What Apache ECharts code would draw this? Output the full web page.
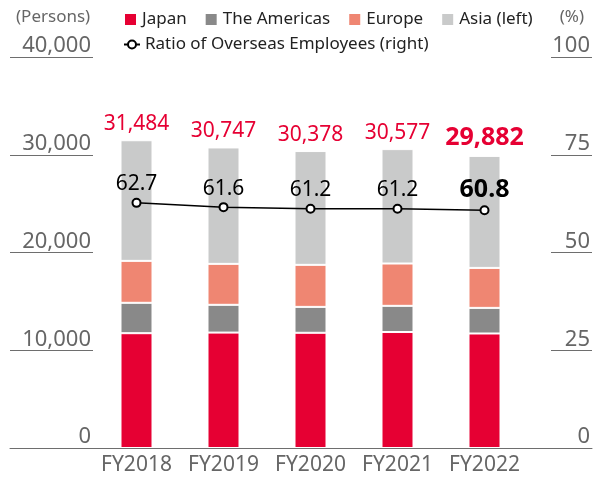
<!DOCTYPE html>
<html>
<head>
<meta charset="utf-8">
<script src="https://cdn.jsdelivr.net/npm/echarts@6/dist/echarts.min.js"></script>
<style>
  html, body { margin: 0; padding: 0; background: #fff; }
  #chart { width: 593px; height: 478px; }
</style>
</head>
<body>
<div id="chart"></div>
<script>
// Employees by region (persons) and overseas ratio (%)
const categories = ['FY2018', 'FY2019', 'FY2020', 'FY2021', 'FY2022'];
const japan    = [11744, 11807, 11787, 11864, 11714];
const americas = [3110, 2840, 2650, 2680, 2620];
const europe   = [4290, 4190, 4300, 4330, 4090];
const totals   = [31484, 30747, 30378, 30577, 29882];
const asia     = totals.map((t, i) => t - japan[i] - americas[i] - europe[i]);
const ratio    = [62.7, 61.6, 61.2, 61.2, 60.8];
const leftTicks  = [0, 10000, 20000, 30000, 40000];
const rightTicks = [0, 25, 50, 75, 100];

const FONT = '"Noto Sans", "Open Sans", sans-serif';
const RED = '#e60033';
const TICK = '#6e6e6e';
const last = categories.length - 1;

const chart = echarts.init(document.getElementById('chart'));

function barSeries(name, data, color) {
  return {
    name, type: 'bar', stack: 'staff', data,
    barWidth: 32,
    itemStyle: { color, borderColor: '#fff', borderWidth: 1 },
    emphasis: { disabled: true }
  };
}

const asiaSeries = barSeries('Asia (left)', asia.map((v, i) => {
  const item = { value: v };
  if (i === last) item.label = { fontSize: 25, fontWeight: 'bold' };
  return item;
}), '#c9caca');
asiaSeries.label = {
  show: true, position: 'top', distance: 6,
  color: RED, fontFamily: FONT, fontSize: 21,
  formatter: p => totals[p.dataIndex].toLocaleString('en-US')
};

chart.setOption({
  animation: false,
  textStyle: { fontFamily: FONT },
  title: [
    { text: '(Persons)', left: 11, top: 4, textStyle: { fontSize: 17, fontWeight: 'normal', color: '#666', fontFamily: FONT } },
    { text: '(%)', right: 4, top: 4, textStyle: { fontSize: 17, fontWeight: 'normal', color: '#666', fontFamily: FONT } }
  ],
  legend: [
    {
      data: ['Japan', 'The Americas', 'Europe', 'Asia (left)'],
      left: 118, top: 6, itemWidth: 13, itemHeight: 13, itemGap: 17, itemTextGap: 7,
      icon: 'rect',
      textStyle: { fontSize: 17, color: '#222', fontFamily: FONT }
    },
    {
      data: ['Ratio of Overseas Employees (right)'],
      left: 118, top: 31, itemWidth: 16, itemHeight: 10, itemTextGap: 5,
      textStyle: { fontSize: 17, color: '#222', fontFamily: FONT }
    }
  ],
  grid: [
    { left: 93, width: 435, top: 57, bottom: 30, containLabel: false },
    { left: 10, right: 1, top: 57, bottom: 30, containLabel: false }
  ],
  xAxis: [
    {
      type: 'category', data: categories, gridIndex: 0,
      axisLine: { show: false }, axisTick: { show: false },
      axisLabel: { color: '#666', fontSize: 21, margin: 7, interval: 0, fontFamily: FONT }
    },
    {
      type: 'value', gridIndex: 1, min: 0, max: 1,
      axisLine: { show: true, lineStyle: { color: TICK, width: 1 } },
      axisTick: { show: false }, axisLabel: { show: false }, splitLine: { show: false }
    }
  ],
  yAxis: [
    {
      type: 'value', gridIndex: 0, position: 'left',
      min: leftTicks[0], max: leftTicks[leftTicks.length - 1], interval: 10000,
      axisLine: { show: false },
      axisTick: { show: true, length: 83, lineStyle: { color: TICK, width: 1 } },
      splitLine: { show: false },
      axisLabel: {
        color: '#666', fontSize: 22, margin: 2, verticalAlign: 'bottom', fontFamily: FONT,
        formatter: v => v.toLocaleString('en-US')
      }
    },
    {
      type: 'value', gridIndex: 0, position: 'right', offset: 23,
      min: rightTicks[0], max: rightTicks[rightTicks.length - 1], interval: 25,
      axisLine: { show: false },
      axisTick: { show: true, length: 41, lineStyle: { color: TICK, width: 1 } },
      splitLine: { show: false },
      axisLabel: {
        color: '#666', fontSize: 22, margin: 39, align: 'right', verticalAlign: 'bottom', fontFamily: FONT
      }
    },
    {
      type: 'value', gridIndex: 1, min: 0, max: 1, show: false
    }
  ],
  series: [
    barSeries('Japan', japan, RED),
    barSeries('The Americas', americas, '#898989'),
    barSeries('Europe', europe, '#ef8672'),
    asiaSeries,
    {
      name: 'Ratio of Overseas Employees (right)', type: 'line', yAxisIndex: 1,
      data: ratio.map((v, i) => {
        const item = { value: v };
        if (i === last) item.label = { fontSize: 25, fontWeight: 'bold' };
        return item;
      }),
      symbol: 'circle', symbolSize: 8,
      lineStyle: { color: '#000', width: 1.5 },
      itemStyle: { color: '#fff', borderColor: '#000', borderWidth: 2 },
      label: {
        show: true, position: 'top', distance: 3,
        color: '#000', fontSize: 21, fontFamily: FONT,
        formatter: p => p.value.toFixed(1)
      },
      emphasis: { disabled: true },
      z: 5
    }
  ]
});
</script>
</body>
</html>
